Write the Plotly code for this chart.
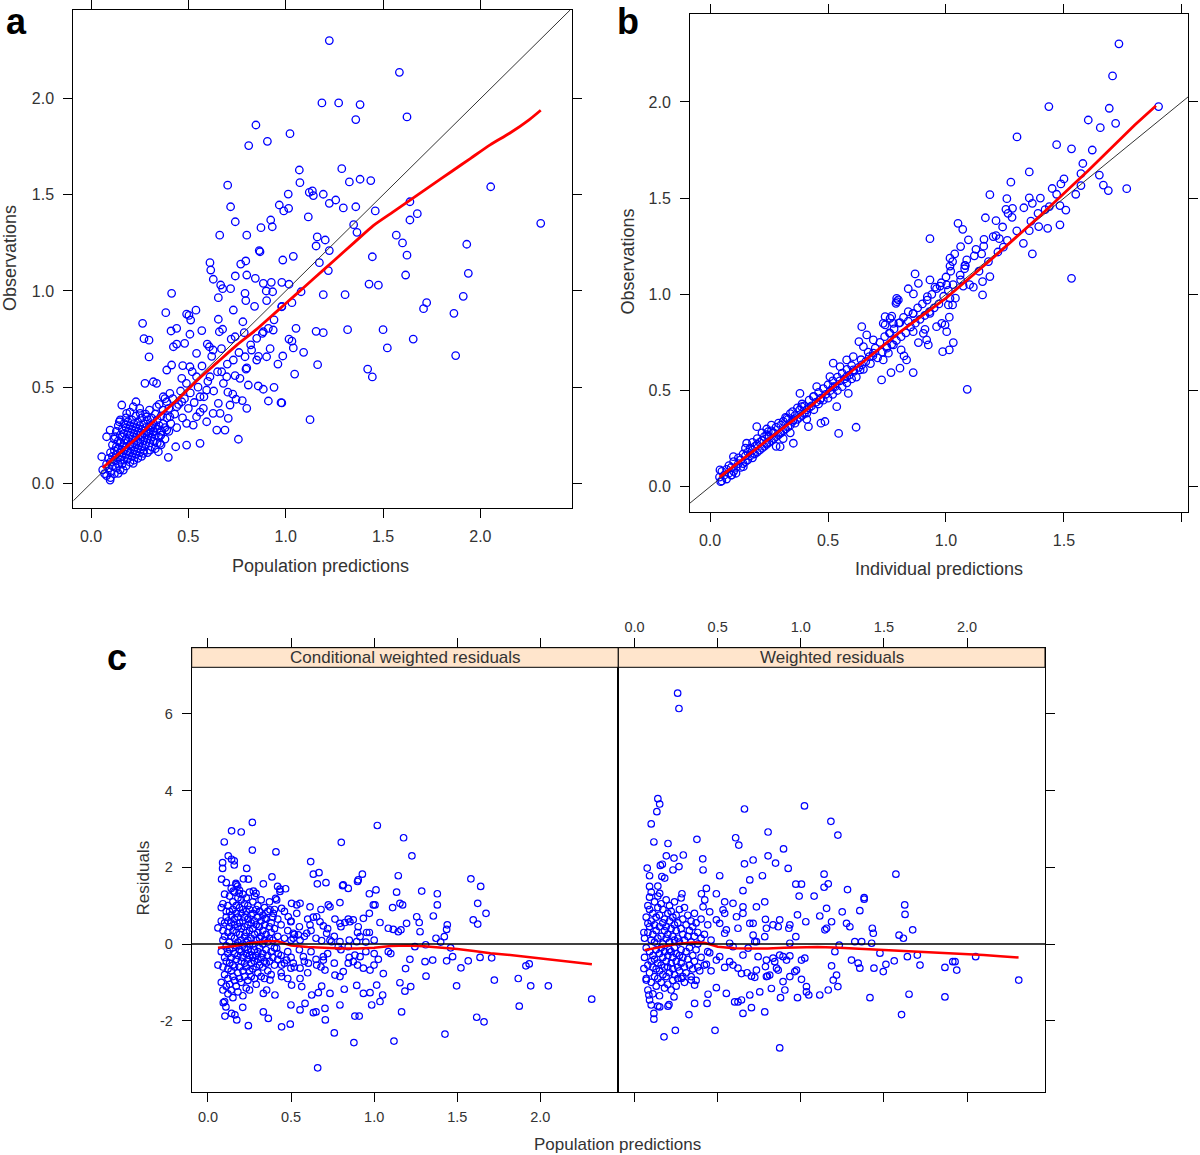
import plotly.graph_objects as go

W, H = 1200, 1155

# ---------------- DATA ----------------
# Panel a: population predictions vs observations
a_points = [
(0.847,1.863),(0.81,1.756),(0.906,1.778),(1.022,1.818),(0.702,1.55),(0.717,1.438),(0.741,1.36),(0.661,1.29),
(0.80,1.29),(0.873,1.329),(0.923,1.369),(0.931,1.334),(0.967,1.447),(0.99,1.416),(1.015,1.43),(1.013,1.504),
(0.864,1.21),(1.07,1.629),(1.073,1.563),(1.224,2.302),(1.584,2.137),(1.186,1.978),(1.272,1.978),(1.382,1.969),
(1.36,1.891),(1.623,1.905),(1.288,1.636),(1.327,1.567),(1.382,1.581),(1.437,1.574),(1.121,1.513),(1.137,1.52),
(1.142,1.496),(1.193,1.503),(1.257,1.473),(1.224,1.456),(1.296,1.432),(1.36,1.438),(1.46,1.416),(1.638,1.464),
(2.053,1.542),(1.676,1.402),(1.638,1.369),(2.31,1.352),(1.116,1.385),(1.349,1.345),(1.366,1.305),(1.162,1.281),
(1.203,1.265),(1.156,1.234),(1.224,1.21),(1.568,1.29),(1.60,1.25),(1.93,1.243),(1.623,1.186),(1.445,1.178),
(1.039,1.18),(1.173,1.147),(1.219,1.106),(0.985,1.161),(0.98,1.045),(1.017,1.035),(1.079,0.996),(1.193,0.981),
(1.305,0.981),(1.428,1.036),(1.476,1.03),(1.616,1.083),(1.938,1.092),(1.912,0.972),(1.724,0.939),(1.708,0.908),
(1.864,0.884),(1.032,0.939),(0.98,0.918),(1.053,0.806),(1.156,0.79),(1.193,0.783),(1.318,0.799),(1.50,0.799),
(1.655,0.75),(1.017,0.75),(1.032,0.739),(1.039,0.704),(1.522,0.704),(1.092,0.681),(0.985,0.662),(1.873,0.664),
(1.164,0.617),(1.421,0.594),(1.445,0.553),(1.046,0.568),(0.98,0.418),(1.125,0.331),
(0.611,1.147),(0.615,1.109),(0.628,1.061),(0.769,1.14),(0.795,1.156),(0.80,1.083),(0.741,1.078),(0.666,1.031),
(0.676,1.012),(0.717,1.012),(0.868,1.204),(0.844,1.066),(0.885,1.04),(0.926,1.045),(0.933,0.996),(0.902,0.95),
(0.791,0.988),(0.795,0.95),(0.654,0.965),(0.414,0.988),(0.384,0.887),(0.539,0.90),(0.491,0.88),(0.503,0.873),
(0.512,0.849),(0.411,0.792),(0.44,0.806),(0.265,0.832),(0.272,0.752),(0.298,0.744),(0.298,0.657),(0.508,0.775),
(0.569,0.794),(0.654,0.853),(0.731,0.901),(0.676,0.801),(0.659,0.788),(0.597,0.724),(0.608,0.71),(0.423,0.71),
(0.44,0.724),(0.481,0.728),(0.542,0.676),(0.627,0.693),(0.74,0.762),(0.787,0.783),(0.851,0.754),(0.885,0.788),
(0.911,0.806),(0.936,0.797),(0.825,0.693),(0.791,0.658),(0.851,0.641),(0.902,0.658),(0.796,0.594),(0.765,0.546),
(0.859,0.506),(0.885,0.489),(0.94,0.499),(0.911,0.428),(0.976,0.419),(0.728,0.464),(0.745,0.437),(0.777,0.43),
(0.714,0.407),(0.80,0.39),(0.705,0.338),(0.646,0.277),(0.688,0.277),(0.757,0.229),(0.491,0.312),(0.525,0.303),
(0.56,0.208),(0.491,0.199),(0.435,0.19),(0.397,0.135),(0.346,0.164),(0.277,0.52),(0.32,0.528),(0.337,0.52),
(0.217,0.398),(0.158,0.407),(0.56,0.45),(0.594,0.485),(0.611,0.554),(0.542,0.554),(0.466,0.546),(0.508,0.606),
(0.471,0.612),(0.389,0.589),(0.414,0.615),(0.405,0.468),(0.389,0.424),(0.466,0.424),(0.654,0.416),(0.627,0.364),
(0.577,0.39),(0.542,0.346),(0.594,0.32),(0.663,0.364),(0.703,0.474),(0.671,0.58),(0.697,0.554),(0.731,0.641),
(0.808,0.511),(0.231,0.424),(0.183,0.364),(0.145,0.32),(0.098,0.277),(0.08,0.242),(0.124,0.242),(0.055,0.138),
(0.098,0.017),(0.14,0.052),(0.166,0.069),(0.217,0.104),(0.269,0.156),(0.303,0.173),(0.354,0.208),(0.359,0.251),
(0.32,0.268),(0.286,0.346),(0.252,0.364),(0.337,0.398),(0.371,0.45),(0.405,0.346),(0.389,0.277),(0.44,0.398),
]
a_cluster = [
(0.06,0.07),(0.07,0.05),(0.08,0.10),(0.08,0.04),(0.09,0.08),(0.09,0.13),(0.10,0.03),(0.10,0.06),(0.10,0.11),
(0.10,0.16),(0.11,0.09),(0.11,0.14),(0.11,0.20),(0.12,0.05),(0.12,0.12),(0.12,0.17),(0.12,0.23),(0.13,0.08),
(0.13,0.15),(0.13,0.19),(0.13,0.27),(0.14,0.10),(0.14,0.13),(0.14,0.18),(0.14,0.22),(0.14,0.30),(0.15,0.07),
(0.15,0.12),(0.15,0.16),(0.15,0.21),(0.15,0.25),(0.15,0.33),(0.16,0.10),(0.16,0.14),(0.16,0.19),(0.16,0.24),
(0.16,0.28),(0.17,0.12),(0.17,0.17),(0.17,0.21),(0.17,0.26),(0.17,0.31),(0.18,0.09),(0.18,0.15),(0.18,0.19),
(0.18,0.23),(0.18,0.29),(0.18,0.34),(0.19,0.13),(0.19,0.17),(0.19,0.22),(0.19,0.27),(0.19,0.32),(0.20,0.11),
(0.20,0.16),(0.20,0.20),(0.20,0.25),(0.20,0.30),(0.20,0.37),(0.21,0.14),(0.21,0.19),(0.21,0.23),(0.21,0.28),
(0.21,0.33),(0.22,0.12),(0.22,0.17),(0.22,0.21),(0.22,0.26),(0.22,0.31),(0.23,0.15),(0.23,0.20),(0.23,0.24),
(0.23,0.29),(0.23,0.35),(0.24,0.13),(0.24,0.18),(0.24,0.22),(0.24,0.27),(0.24,0.32),(0.25,0.16),(0.25,0.21),
(0.25,0.25),(0.25,0.30),(0.25,0.39),(0.26,0.14),(0.26,0.19),(0.26,0.24),(0.26,0.28),(0.26,0.34),(0.27,0.17),
(0.27,0.22),(0.27,0.26),(0.27,0.31),(0.28,0.20),(0.28,0.25),(0.28,0.29),(0.28,0.36),(0.29,0.16),(0.29,0.23),
(0.29,0.27),(0.29,0.33),(0.30,0.21),(0.30,0.26),(0.30,0.30),(0.30,0.38),(0.31,0.19),(0.31,0.24),(0.31,0.29),
(0.31,0.34),(0.32,0.22),(0.32,0.27),(0.32,0.31),(0.33,0.18),(0.33,0.25),(0.33,0.29),(0.33,0.36),(0.34,0.21),
(0.34,0.28),(0.34,0.33),(0.35,0.24),(0.35,0.30),(0.35,0.41),(0.36,0.20),(0.36,0.27),(0.36,0.35),(0.37,0.31),
(0.37,0.38),(0.38,0.23),(0.38,0.29),(0.38,0.44),(0.39,0.34),(0.40,0.27),(0.40,0.39),(0.41,0.31),(0.42,0.44),
(0.43,0.36),(0.44,0.29),(0.45,0.41),(0.46,0.48),(0.47,0.34),(0.48,0.44),(0.49,0.52),(0.50,0.39),(0.51,0.47),
(0.52,0.58),(0.53,0.42),(0.55,0.50),(0.56,0.37),(0.57,0.61),(0.58,0.45),(0.60,0.53),(0.62,0.66),(0.63,0.48),
(0.65,0.58),(0.67,0.70),(0.68,0.52),(0.70,0.62),(0.72,0.75),(0.74,0.56),(0.76,0.68),(0.78,0.84),(0.80,0.60),
(0.82,0.72),(0.84,0.92),(0.86,0.66),(0.88,0.78),(0.90,1.00),(0.92,0.70),(0.94,0.85),(0.96,0.62),(0.98,0.92),
]
a_fit_x = [0.06, 0.15, 0.25, 0.35, 0.45, 0.55, 0.65, 0.75, 0.85, 0.95, 1.05, 1.15, 1.25, 1.35, 1.45, 1.55, 1.65, 1.75, 1.85, 1.95, 2.05, 2.15, 2.25, 2.31]
a_fit_y = [0.08, 0.16, 0.25, 0.35, 0.44, 0.54, 0.63, 0.72, 0.80, 0.89, 0.98, 1.07, 1.16, 1.25, 1.34, 1.41, 1.48, 1.55, 1.62, 1.69, 1.76, 1.82, 1.89, 1.94]

# Panel b: individual predictions vs observations
b_points = [
(1.733,2.302),(1.706,2.135),(1.436,1.976),(1.692,1.967),(1.901,1.976),(1.603,1.906),(1.654,1.866),(1.719,1.889),
(1.301,1.818),(1.469,1.778),(1.532,1.756),(1.353,1.636),(1.572,1.627),(1.275,1.583),(1.487,1.574),(1.572,1.565),
(1.667,1.568),(1.688,1.539),(1.766,1.549),(1.186,1.518),(1.258,1.497),(1.254,1.442),(1.282,1.447),(1.263,1.421),
(1.353,1.501),(1.366,1.473),(1.469,1.52),(1.438,1.456),(1.483,1.461),(1.508,1.438),(1.39,1.421),(1.167,1.398),
(1.212,1.383),(1.051,1.369),(1.071,1.338),(1.353,1.331),(1.393,1.352),(1.431,1.343),(1.483,1.361),(0.932,1.289),
(1.095,1.283),(1.161,1.286),(1.212,1.305),(1.226,1.289),(1.243,1.245),(1.328,1.265),(1.366,1.21),(1.062,1.248),
(1.127,1.234),(1.151,1.21),(1.037,1.21),(1.017,1.188),(1.028,1.17),(1.017,1.147),(1.088,1.179),(1.082,1.149),
(1.079,1.133),(0.869,1.106),(0.883,1.057),(0.932,1.075),(0.84,1.029),(0.862,1.002),(0.953,1.037),(0.975,1.043),
(1.003,1.049),(1.062,1.075),(1.073,1.043),(1.116,1.037),(1.155,1.066),(1.186,1.092),(1.155,0.997),(1.532,1.083),
(0.791,0.979),(1.09,0.506),(1.031,0.749),(1.014,0.711),(0.986,0.702),(0.925,0.737),(0.918,0.763),(0.883,0.749),
(0.861,0.593),(0.805,0.616),(0.767,0.593),(0.727,0.555),(0.833,0.659),(0.822,0.68),(0.81,0.711),(1.003,0.806),
(0.996,0.841),(1.014,0.881),(1.01,0.945),(1.028,0.945),(1.017,0.979),(0.96,0.832),(0.982,0.849),(0.904,0.797),
(0.911,0.818),(0.932,0.901),(0.921,0.988),(0.791,0.962),(0.763,0.875),(0.742,0.841),(0.861,0.806),(0.805,0.853),
(0.84,0.91),(0.861,0.901),(0.777,0.737),(0.756,0.694),(0.734,0.659),(0.545,0.277),(0.619,0.309),(0.643,0.832),
(0.664,0.789),(0.788,0.953),(0.798,0.971),(0.742,0.884),(0.77,0.887),(0.631,0.754),(0.675,0.676),(0.643,0.633),
(0.586,0.485),(0.537,0.416),(0.47,0.33),(0.487,0.339),(0.417,0.312),(0.353,0.226),(0.297,0.208),(0.381,0.485),
(0.438,0.468),(0.522,0.642),(0.551,0.624),(0.579,0.659),(0.607,0.676),(0.508,0.572),(0.452,0.52),(0.388,0.416),
(0.325,0.356),(0.247,0.286),(0.198,0.312),(0.155,0.226),(0.099,0.156),(0.042,0.087),(0.045,0.026),(0.092,0.061),
(0.141,0.104),(0.184,0.173),(0.24,0.226),(0.297,0.277),(0.353,0.347),(0.41,0.382),(0.466,0.451),(0.522,0.52),
(0.579,0.572),(0.636,0.607),(0.692,0.694),(0.749,0.728),(0.763,0.797),(0.777,0.849),(0.734,0.849),(0.692,0.763),
(0.65,0.728),(0.607,0.607),
]
b_cluster = [
(0.04,0.05),(0.05,0.03),(0.05,0.08),(0.06,0.06),(0.07,0.04),(0.07,0.09),(0.08,0.07),(0.08,0.11),(0.09,0.06),
(0.09,0.10),(0.10,0.08),(0.10,0.13),(0.11,0.10),(0.11,0.07),(0.12,0.12),(0.12,0.15),(0.13,0.10),(0.13,0.14),
(0.14,0.12),(0.14,0.17),(0.15,0.13),(0.15,0.16),(0.15,0.20),(0.16,0.14),(0.16,0.18),(0.17,0.16),(0.17,0.20),
(0.18,0.15),(0.18,0.19),(0.18,0.23),(0.19,0.17),(0.19,0.21),(0.20,0.18),(0.20,0.22),(0.20,0.25),(0.21,0.19),
(0.21,0.23),(0.22,0.20),(0.22,0.24),(0.22,0.28),(0.23,0.21),(0.23,0.26),(0.24,0.22),(0.24,0.27),(0.24,0.30),
(0.25,0.23),(0.25,0.26),(0.26,0.24),(0.26,0.29),(0.26,0.32),(0.27,0.25),(0.27,0.28),(0.28,0.26),(0.28,0.31),
(0.28,0.21),(0.29,0.27),(0.29,0.33),(0.30,0.28),(0.30,0.32),(0.31,0.29),(0.31,0.34),(0.31,0.25),(0.32,0.30),
(0.32,0.36),(0.33,0.31),(0.33,0.35),(0.34,0.32),(0.34,0.38),(0.34,0.28),(0.35,0.34),(0.35,0.39),(0.36,0.33),
(0.36,0.37),(0.37,0.35),(0.37,0.41),(0.38,0.36),(0.38,0.40),(0.39,0.37),(0.39,0.43),(0.40,0.38),(0.40,0.42),
(0.41,0.40),(0.41,0.35),(0.42,0.41),(0.42,0.45),(0.43,0.42),(0.44,0.40),(0.44,0.47),(0.45,0.44),(0.46,0.43),
(0.46,0.49),(0.47,0.46),(0.48,0.45),(0.48,0.51),(0.49,0.48),(0.50,0.46),(0.50,0.53),(0.51,0.50),(0.52,0.48),
(0.52,0.55),(0.53,0.52),(0.54,0.50),(0.54,0.57),(0.55,0.55),(0.56,0.52),(0.56,0.59),(0.57,0.56),(0.58,0.54),
(0.58,0.61),(0.59,0.58),(0.60,0.56),(0.60,0.63),(0.61,0.60),(0.62,0.57),(0.63,0.62),(0.64,0.66),(0.65,0.61),
(0.66,0.65),(0.67,0.70),(0.68,0.64),(0.69,0.68),(0.70,0.72),(0.71,0.67),(0.72,0.75),(0.73,0.70),(0.74,0.78),
(0.75,0.72),(0.76,0.80),(0.77,0.74),(0.78,0.82),(0.79,0.76),(0.80,0.85),(0.81,0.78),(0.82,0.88),(0.83,0.80),
(0.84,0.86),(0.85,0.83),(0.86,0.90),(0.87,0.85),(0.88,0.93),(0.89,0.87),(0.90,0.95),(0.91,0.89),(0.92,0.97),
(0.93,0.91),(0.94,1.00),(0.95,0.93),(0.96,1.03),(0.97,0.95),(0.98,1.06),(0.99,0.99),(1.00,1.09),(1.01,1.02),
(1.02,1.12),(1.03,1.05),(1.04,0.98),(1.06,1.10),(1.08,1.15),(1.10,1.05),(1.12,1.20),(1.14,1.12),(1.16,1.25),
(1.18,1.17),(1.20,1.30),(1.22,1.22),(1.24,1.35),(1.26,1.28),(1.28,1.40),(1.30,1.33),(1.33,1.45),(1.36,1.38),
(1.40,1.50),(1.42,1.44),(1.45,1.55),(1.50,1.60),(1.55,1.52),(1.58,1.68),(1.62,1.75),(1.65,1.62),
]
b_fit_x = [0.04, 0.2, 0.4, 0.6, 0.8, 1.0, 1.2, 1.4, 1.6, 1.8, 1.89]
b_fit_y = [0.05, 0.2, 0.39, 0.6, 0.8, 0.98, 1.19, 1.41, 1.64, 1.88, 1.98]

# Panel c (left): population predictions vs conditional weighted residuals
cw_points = [
(0.267,3.17),(0.142,2.95),(0.2,2.92),(0.098,2.66),(1.019,3.09),(0.802,2.65),(1.177,2.77),(1.227,2.3),(0.267,2.45),
(0.409,2.4),(0.122,2.3),(0.142,2.21),(0.158,2.17),(0.158,2.06),(0.088,2.12),(0.088,1.97),(0.233,1.97),(0.618,2.15),
(0.634,1.82),(0.668,1.86),(0.658,1.57),(0.71,1.6),(0.385,1.75),(0.082,1.69),(0.213,1.7),(0.243,1.69),(0.333,1.57),
(0.419,1.5),(0.433,1.43),(0.467,1.44),(0.814,1.54),(0.844,1.45),(0.904,1.67),(0.929,1.82),(1.145,1.78),(0.971,1.31),
(1.011,1.41),(1.135,1.35),(1.286,1.38),(1.38,1.31),(1.582,1.7),(1.641,1.5),(0.168,1.58),(0.178,1.51),(0.152,1.38),
(0.188,1.32),(0.273,1.38),(0.289,1.32),
(2.309,-1.44),(1.873,-1.62),(1.867,-0.9),(1.942,-1.09),(2.048,-1.09),(1.723,-0.94),(1.913,-0.57),(1.933,-0.52),
(1.707,-0.36),(1.637,-0.35),(1.566,-0.44),(1.522,-0.62),(1.496,-1.09),(1.472,-0.33),(1.436,-0.44),(1.617,-1.91),
(1.661,-2.03),(1.426,-2.35),(1.119,-2.53),(0.878,-2.57),(0.66,-3.23),(0.76,-2.32),(0.443,-2.16),(0.495,-2.09),
(0.243,-2.13),(0.173,-1.98),(0.102,-1.88),(0.142,-1.81),(0.162,-1.85),(0.092,-1.53),(0.108,-1.64),(0.209,-1.65),
(0.333,-1.77),(0.363,-1.94),(0.499,-1.59),(0.554,-1.72),(0.584,-1.55),(0.634,-1.79),(0.65,-1.77),(0.706,-1.98),
(0.704,-1.68),(0.794,-1.59),(0.884,-1.88),(0.91,-1.88),(1.165,-1.77),(0.985,-1.59),(1.035,-1.5),(1.051,-1.33),
(0.373,-0.94),(0.403,-1.33),(0.333,-1.29),(0.353,-1.2),(0.443,-0.85),(0.503,-1.07),(0.499,-0.63),(0.554,-0.9),
(0.564,-1.11),(0.624,-1.33),(0.664,-1.27),(0.734,-1.29),(0.684,-1.1),(0.82,-1.18),(0.895,-1.08),(0.935,-1.29),
(0.975,-1.27),(1.015,-1.07),(1.055,-0.77),(0.999,-0.55),(1.025,-0.4),(0.935,-0.63),(0.975,-0.68),(1.155,-1.01),
(1.185,-1.23),(1.22,-1.11),(1.312,-0.84),(1.189,-0.64),(1.215,-0.4),(1.306,-0.46),(1.352,-0.42),(1.276,0.32),
(1.256,0.71),(1.271,0.56),(1.356,0.73),(1.38,1.02),(1.372,0.15),(1.422,0.19),(1.436,0.38),(1.44,0.5),(1.596,0.63),
(1.623,0.52),(1.623,1.06),(1.673,0.8),(1.195,0.54),(1.161,0.37),(1.145,0.32),(1.115,0.38),(1.085,0.41),(1.035,0.56),
(1.111,0.95),(1.155,1.06),(1.171,1.02),(0.995,1.02),(1.005,1.02),(0.971,0.8),(0.935,0.67),(0.971,0.3),(0.904,0.45),
(0.874,0.63),(0.854,0.58),(0.824,0.56),(0.844,0.65),(0.794,0.54),(0.764,0.65),(0.724,1.02),(0.734,0.97),(0.794,1.08),
(0.81,1.52),(0.9,1.63),(0.614,0.97),(0.634,0.7),(0.654,0.71),(0.674,0.58),(0.694,0.47),(0.714,0.28),(0.684,0.09),
(0.734,0.1),(0.744,0.06),(0.794,0.06),(0.784,-0.07),(0.844,-0.07),(0.895,0.06),(0.915,0.19),(0.955,0.3),(0.884,-0.29),
(0.915,-0.33),(0.874,-0.46),(0.844,-0.5),(0.814,-0.72),(0.794,-0.85),(0.764,-0.81),(0.704,-0.68),(0.694,-0.42),
(0.694,-0.33),(0.654,-0.55),(0.604,-0.5),(0.574,-0.33),(0.554,-0.63),(0.513,-0.5),(0.473,-0.42),(0.443,-0.55),
(0.413,-0.11),(0.423,-0.26),(0.554,0.1),(0.544,0.24),(0.513,0.28),(0.513,0.15),(0.594,0.28),(0.614,0.5),(0.534,0.8),
(0.503,1.06),(0.534,1.02),(0.554,1.06),(0.498,0.58),(0.483,0.71),(0.443,0.93),(0.413,1.15),(0.407,1.19),(0.433,1.37),
(0.393,0.8),(0.373,0.89),(0.343,0.67),(0.313,0.84),(1.085,-0.2),(1.10,-0.25),(1.245,-0.07),(1.31,-0.02),(1.40,0.05),
(1.46,-0.1),
]
cw_cluster = {
0.06: [0.42, -0.55], 0.08: [0.6, -0.2, 0.95, -1.0], 0.09: [1.05, 0.1, -0.6, -1.2, 0.35],
0.10: [0.55, -0.35, 1.3, -0.8, 0.2, -1.5], 0.11: [0.85, -0.05, 0.7, -0.45, -1.1, 1.6],
0.12: [0.3, -0.9, 1.0, -0.25, 0.6, -1.3, -0.65], 0.13: [1.25, 0.05, -0.5, 0.45, -1.05, 0.85, -0.15],
0.14: [0.75, -0.7, 1.45, 0.2, -0.35, -1.2, 0.55], 0.15: [-0.85, 0.35, 1.1, -0.1, 0.9, -0.55, -1.4],
0.16: [0.65, -0.25, 1.35, -0.95, 0.15, 0.5, -0.6], 0.17: [1.0, -0.4, 0.3, -1.1, 0.8, -0.05, 1.55],
0.18: [-0.75, 0.45, 1.2, -0.3, 0.05, -1.25, 0.7], 0.19: [0.25, -0.6, 0.95, -0.15, 1.4, -0.9, 0.55],
0.20: [-0.45, 0.8, -1.0, 0.1, 1.15, -0.2, 0.4], 0.21: [0.6, -0.7, 1.3, -0.35, 0.0, -1.35, 0.9],
0.22: [-0.1, 0.45, -0.85, 1.05, 0.2, -0.5, 0.7], 0.23: [0.3, -0.6, 1.2, -0.25, 0.85, -1.15, 0.05],
0.24: [-0.4, 0.65, 0.1, -0.95, 1.0, -0.15, 0.5], 0.25: [0.35, -0.7, 0.9, -0.3, 1.35, 0.0, -1.2],
0.26: [-0.5, 0.75, 0.15, -0.85, 0.55, -0.2], 0.27: [0.4, -0.35, 1.1, -0.65, 0.0, 0.8],
0.28: [-0.15, 0.6, -0.9, 0.25, -0.45, 1.25], 0.29: [0.5, -0.6, 0.1, 0.9, -0.3, -1.05],
0.30: [-0.2, 0.7, 0.3, -0.75, 1.0, -0.4], 0.31: [0.15, -0.55, 0.85, -0.1, 0.45],
0.32: [-0.35, 0.6, -0.85, 0.2, 1.15], 0.33: [0.35, -0.25, 0.75, -0.6, 0.0], 0.34: [-0.45, 0.5, 0.1, -0.9, 0.95],
0.35: [0.25, -0.15, 0.65, -0.5], 0.36: [-0.3, 0.85, 0.05, -0.7], 0.37: [0.45, -0.45, 1.1, 0.15],
0.38: [-0.2, 0.55, -0.8, 0.3], 0.39: [0.7, -0.35, 0.1], 0.40: [-0.55, 0.4, 0.9, -0.1], 0.42: [0.2, -0.4, 0.65],
0.44: [-0.3, 0.5, -0.75], 0.46: [0.15, -0.5, 0.85], 0.48: [-0.2, 0.35, -0.9], 0.50: [0.6, -0.35, 0.1],
0.52: [-0.6, 0.25], 0.55: [0.45, -0.15], 0.58: [-0.45, 0.2], 0.60: [0.65, -0.75], 0.62: [-0.2, 0.35],
0.65: [0.15, -0.4], 0.68: [0.9, -0.6], 0.72: [-0.25, 0.4], 0.76: [0.2, -0.5], 0.80: [-0.15, 0.45],
0.85: [0.1, -0.35], 0.90: [-0.55, 0.3], 0.95: [0.05, -0.2], 1.00: [-0.25, 0.1],
}

# Panel c (right): population predictions vs weighted residuals
wr_points = [
(0.259,6.54),(0.267,6.14),(0.14,3.79),(0.151,3.65),(0.134,3.45),(0.661,3.52),(1.022,3.6),(1.181,3.2),(1.223,2.84),
(0.1,3.13),(0.116,2.66),(0.201,2.62),(0.375,2.73),(0.608,2.77),(0.627,2.58),(0.803,2.92),(0.896,2.48),(0.293,2.32),
(0.41,2.22),(0.412,1.93),(0.237,2.24),(0.191,2.3),(0.167,2.08),(0.155,2.05),(0.267,2.02),(0.231,1.93),(0.076,1.98),
(0.09,1.78),(0.164,1.76),(0.181,1.72),(0.09,1.5),(0.14,1.51),(0.151,1.32),(0.285,1.31),(0.402,1.31),(0.432,1.45),
(0.492,1.31),(0.512,1.78),(0.652,1.39),(0.661,2.09),(0.713,2.19),(0.693,1.67),(0.769,1.78),(0.803,2.3),(0.848,2.11),
(0.924,1.97),(0.97,1.56),(1.004,1.56),(0.99,1.25),(1.08,1.25),(1.14,1.82),(1.14,1.48),(1.165,1.57),(1.281,1.42),
(1.381,1.21),(1.572,1.82),
(2.311,-0.94),(2.052,-0.33),(1.867,-0.61),(1.914,-0.46),(1.928,-0.46),(1.938,-0.68),(1.867,-1.38),(1.717,-0.55),
(1.701,-0.29),(1.641,-0.33),(1.673,0.37),(1.617,0.15),(1.591,0.23),(1.627,0.77),(1.625,1.02),(1.651,-1.31),
(1.606,-1.84),(1.562,-0.44),(1.512,-0.53),(1.496,-0.72),(1.476,-0.24),(1.44,-0.63),(1.416,-1.4),(1.436,0.28),
(1.43,0.41),(1.426,0.02),(1.355,0.87),(1.381,1.17),(1.366,0.06),(1.325,0.06),(1.295,0.45),(1.275,0.54),(1.249,0.84),
(1.355,-0.63),(1.345,-0.5),(1.305,-0.42),(1.223,-1.11),(1.215,-0.81),(1.195,-0.94),(1.185,-0.57),(1.165,-1.2),
(1.114,-1.33),(1.205,-0.2),(1.231,-0.03),(1.185,0.58),(1.155,0.41),(1.145,0.37),(1.114,0.73),(1.155,0.93),(1.03,0.58),
(0.98,0.76),(0.97,0.19),(0.934,0.5),(0.928,0.41),(1.004,-0.42),(1.024,-0.37),(0.974,-0.68),(0.964,-0.72),(1.004,-0.92),
(1.034,-1.11),(1.034,-1.25),(1.048,-1.33),(0.98,-1.4),(0.934,-0.85),(0.904,-1.2),(0.878,-1.4),(0.873,-2.71),
(0.893,-0.98),(0.934,-0.31),(0.893,-0.33),(0.914,-0.42),(0.854,-0.63),(0.864,-0.68),(0.793,-0.85),(0.813,-0.81),
(0.823,-1.16),(0.783,-1.77),(0.753,-1.25),(0.703,-1.66),(0.652,-1.81),(0.693,-1.33),(0.643,-1.46),(0.622,-1.51),
(0.602,-1.51),(0.552,-1.29),(0.492,-1.14),(0.484,-2.25),(0.442,-1.31),(0.436,-1.55),(0.361,-1.55),(0.327,-1.84),
(0.245,-2.25),(0.177,-2.42),(0.207,-1.58),(0.201,-1.62),(0.237,-1.38),(0.151,-1.64),(0.14,-1.62),(0.116,-1.81),
(0.116,-1.96),(0.09,-1.46),(0.1,-1.59),(0.086,-1.33),(0.056,-0.64),(0.07,-0.94),(0.056,0.3),(0.08,0.54),(0.09,1.22),
(0.392,-0.7),(0.432,-0.53),(0.361,-1.07),(0.341,-0.94),(0.281,-0.9),(0.452,-0.23),(0.492,-0.42),(0.512,-0.33),
(0.542,-0.61),(0.572,-0.46),(0.592,-0.55),(0.622,-0.63),(0.643,-0.77),(0.677,-0.75),(0.703,-0.84),(0.733,-0.68),
(0.723,-0.87),(0.787,-0.59),(0.799,-0.84),(0.793,-0.42),(0.743,-0.33),(0.652,-0.29),(0.683,-0.11),(0.833,-0.37),
(0.843,-0.46),(0.873,-0.29),(0.723,0.06),(0.733,0.06),(0.713,0.23),(0.783,0.19),(0.793,0.41),(0.833,0.5),(0.873,0.63),
(0.864,0.45),(0.934,0.02),(0.787,0.64),(0.733,0.97),(0.783,1.1),(0.693,0.54),(0.713,0.54),(0.652,0.8),(0.652,0.97),
(0.592,1.06),(0.613,0.71),(0.622,0.41),(0.542,0.8),(0.532,0.89),(0.542,1.1),(0.542,0.28),(0.552,0.37),(0.572,0.02),
(0.592,-0.07),(0.492,0.63),(0.512,0.54),(0.452,0.84),(0.412,0.97),(0.422,1.15),
]
wr_cluster = {
0.06: [0.15, -0.35], 0.07: [0.7, -0.9, -0.1], 0.08: [1.0, -0.55, 0.3, -1.2], 0.09: [0.45, -0.2, -0.75, 0.9],
0.10: [-1.0, 0.1, 0.6, -0.45, 1.35], 0.11: [-0.3, 0.8, -1.3, 0.25, -0.6], 0.12: [0.5, -0.85, 0.05, 1.1, -0.4],
0.13: [-0.15, 0.7, -1.1, 0.35, -0.65], 0.14: [0.95, -0.5, 0.15, -0.9, 1.25], 0.15: [-0.25, 0.45, -1.35, 0.75, -0.7],
0.16: [0.2, -0.55, 1.05, -0.1, -1.0], 0.17: [-0.8, 0.55, -0.35, 0.9, 0.0], 0.18: [0.35, -1.15, -0.2, 0.65, -0.6],
0.19: [-0.45, 0.15, 1.15, -0.85, 0.45], 0.20: [0.8, -0.3, -1.05, 0.25, -0.6], 0.21: [-0.15, 0.6, -0.75, 0.05, 1.0],
0.22: [0.4, -0.5, -1.2, 0.85, -0.2], 0.23: [-0.65, 0.2, 0.7, -0.35, -0.95], 0.24: [0.5, -0.1, -0.8, 1.1, 0.1],
0.25: [-0.45, 0.35, -1.1, 0.75, -0.25], 0.26: [0.15, -0.6, 0.55, -0.9], 0.27: [-0.3, 0.9, 0.05, -0.7],
0.28: [0.4, -0.5, 1.2, -0.15], 0.29: [-0.85, 0.25, 0.65, -0.35], 0.30: [0.1, -0.6, 0.95, -1.0],
0.31: [-0.2, 0.5, -0.75], 0.32: [0.75, -0.4, 0.2], 0.33: [-0.55, 0.35, -0.1], 0.34: [0.6, -0.85, 0.05],
0.35: [-0.3, 0.45, -0.65], 0.36: [0.2, -0.45, 0.8], 0.37: [-0.15, 0.55, -0.95], 0.38: [0.3, -0.6, 0.0],
0.40: [-0.35, 0.65, 0.15], 0.42: [-0.55, 0.25], 0.44: [0.5, -0.2], 0.46: [-0.7, 0.1],
}
c_fit_x = [0.06, 0.15, 0.25, 0.35, 0.42, 0.5, 0.6, 0.7, 0.8, 0.9, 1.0, 1.1, 1.2, 1.3, 1.4, 1.5, 1.6, 1.7, 1.8, 1.9, 2.0, 2.1, 2.2, 2.31]
cw_fit = [-0.10, -0.06, 0.02, 0.07, 0.07, -0.04, -0.08, -0.10, -0.12, -0.12, -0.10, -0.05, -0.04, -0.06, -0.09, -0.13, -0.18, -0.24, -0.28, -0.33, -0.37, -0.42, -0.47, -0.53]
wr_fit = [-0.16, -0.08, 0.0, 0.04, 0.03, -0.07, -0.11, -0.12, -0.12, -0.10, -0.09, -0.08, -0.09, -0.11, -0.13, -0.16, -0.18, -0.20, -0.22, -0.24, -0.26, -0.29, -0.32, -0.35]

ab_ticks = [0, 0.5, 1.0, 1.5, 2.0]
ab_ticktext = ["0.0", "0.5", "1.0", "1.5", "2.0"]
b_xticktext = ["0.0", "0.5", "1.0", "1.5", ""]
c_xticks = [0, 0.5, 1.0, 1.5, 2.0]
c_xticktext = ["0.0", "0.5", "1.0", "1.5", "2.0"]
c_yticks = [-2, 0, 2, 4, 6]
c_yticktext = ["-2", "0", "2", "4", "6"]

# ---------------- FIGURE ----------------
FONT = "Liberation Sans, Arial, sans-serif"
TXT = "#333333"
BLUE = "#0000FF"


def unzip(pairs):
    return [p[0] for p in pairs], [p[1] for p in pairs]


def expand(d):
    return [(x, y) for x, ys in d.items() for y in ys]


fig = go.Figure()

ax, ay = unzip(a_points + a_cluster)
bx, by = unzip(b_points + b_cluster)
cx, cy = unzip(cw_points + expand(cw_cluster))
dx, dy = unzip(wr_points + expand(wr_cluster))

a_xr = [-0.091, 2.469]; a_yr = [-0.130, 2.461]
b_xr = [-0.085, 2.027]; b_yr = [-0.133, 2.457]
c_xr = [-0.098, 2.469]; c_yr = [-3.867, 7.726]

mk_ab = dict(symbol="circle-open", size=7.5, color=BLUE, line=dict(color=BLUE, width=1.3))
mk_c = dict(symbol="circle-open", size=6.5, color=BLUE, line=dict(color=BLUE, width=1.2))

fig.add_trace(go.Scatter(x=ax, y=ay, mode="markers", marker=mk_ab, xaxis="x", yaxis="y"))
fig.add_trace(go.Scatter(x=[a_xr[0], a_yr[1]], y=[a_xr[0], a_yr[1]], mode="lines",
                         line=dict(color="#333333", width=1), xaxis="x", yaxis="y"))
fig.add_trace(go.Scatter(x=a_fit_x, y=a_fit_y, mode="lines", line=dict(color="red", width=2.8, shape="spline", smoothing=0.6),
                         xaxis="x", yaxis="y"))

fig.add_trace(go.Scatter(x=bx, y=by, mode="markers", marker=mk_ab, xaxis="x2", yaxis="y2"))
fig.add_trace(go.Scatter(x=[b_xr[0], b_xr[1]], y=[b_xr[0], b_xr[1]], mode="lines",
                         line=dict(color="#333333", width=1), xaxis="x2", yaxis="y2"))
fig.add_trace(go.Scatter(x=b_fit_x, y=b_fit_y, mode="lines", line=dict(color="red", width=2.8),
                         xaxis="x2", yaxis="y2"))

fig.add_trace(go.Scatter(x=cx, y=cy, mode="markers", marker=mk_c, xaxis="x3", yaxis="y3"))
fig.add_trace(go.Scatter(x=c_fit_x, y=cw_fit, mode="lines", line=dict(color="red", width=2.5),
                         xaxis="x3", yaxis="y3"))
fig.add_trace(go.Scatter(x=dx, y=dy, mode="markers", marker=mk_c, xaxis="x4", yaxis="y4"))
fig.add_trace(go.Scatter(x=c_fit_x, y=wr_fit, mode="lines", line=dict(color="red", width=2.5),
                         xaxis="x4", yaxis="y4"))


def axis(domain, rng, tickvals, ticktext, size, anchor, mirror="allticks", side=None,
         showlabels=True, standoff=6):
    d = dict(domain=domain, range=rng, anchor=anchor, showline=True, linecolor="black", linewidth=1,
             mirror=mirror, ticks="outside", ticklen=9, tickwidth=1, tickcolor="black",
             showgrid=False, zeroline=False, tickmode="array", tickvals=tickvals, ticktext=ticktext,
             tickfont=dict(family=FONT, size=size, color=TXT), showticklabels=showlabels,
             ticklabelstandoff=standoff, fixedrange=True)
    if side:
        d["side"] = side
    return d


def dom_x(p0, p1):
    return [p0 / W, p1 / W]


def dom_y(top, bottom):
    return [1 - bottom / H, 1 - top / H]


fig.update_layout(
    width=W, height=H, autosize=False, showlegend=False,
    margin=dict(l=0, r=0, t=0, b=0),
    paper_bgcolor="white", plot_bgcolor="white",
    xaxis=axis(dom_x(73.3, 571.7), a_xr, ab_ticks, ab_ticktext, 16, "y", standoff=4),
    yaxis=axis(dom_y(10, 508.3), a_yr, ab_ticks, ab_ticktext, 16, "x"),
    xaxis2=axis(dom_x(690, 1188.3), b_xr, ab_ticks, b_xticktext, 16, "y2", standoff=4),
    yaxis2=axis(dom_y(14, 512.3), b_yr, ab_ticks, ab_ticktext, 16, "x2"),
    xaxis3=axis(dom_x(191.7, 618.3), c_xr, c_xticks, c_xticktext, 14.5, "y3", standoff=2),
    yaxis3=axis(dom_y(647.7, 1092.3), c_yr, c_yticks, c_yticktext, 14.5, "x3", mirror=True),
    xaxis4=axis(dom_x(618.3, 1045), c_xr, c_xticks, c_xticktext, 14.5, "y4", side="top", standoff=0),
    yaxis4=axis(dom_y(647.7, 1092.3), c_yr, c_yticks, c_yticktext, 14.5, "x4", mirror=True,
                side="right", showlabels=False),
)

# zero reference line across both residual panels
fig.add_shape(type="line", xref="x3 domain", yref="y3", x0=0, x1=1, y0=0, y1=0,
              line=dict(color="black", width=1.3))
fig.add_shape(type="line", xref="x4 domain", yref="y4", x0=0, x1=1, y0=0, y1=0,
              line=dict(color="black", width=1.3))

# strips
for (x0, x1) in [(191.7, 618.3), (618.3, 1045)]:
    fig.add_shape(type="rect", xref="paper", yref="paper", x0=x0 / W, x1=x1 / W,
                  y0=1 - 667.3 / H, y1=1 - 647.7 / H, fillcolor="#FFE5CC",
                  line=dict(color="black", width=1), layer="above")

strip_labels = ["Conditional weighted residuals", "Weighted residuals"]
for lbl, xc in zip(strip_labels, [405, 831.7]):
    fig.add_annotation(text=lbl, x=xc / W, y=1 - 657.5 / H, xref="paper", yref="paper",
                       showarrow=False, xanchor="center", yanchor="middle",
                       font=dict(family=FONT, size=17, color=TXT))


def ann(text, x, y, size, angle=0, bold=False, color=TXT):
    fig.add_annotation(text=("<b>%s</b>" % text) if bold else text, x=x / W, y=1 - y / H,
                       xref="paper", yref="paper", showarrow=False, xanchor="center",
                       yanchor="middle", textangle=angle,
                       font=dict(family=FONT, size=size, color=color))


ann("Population predictions", 320, 566, 18)
ann("Observations", 10, 258, 18, angle=-90)
ann("Individual predictions", 938.5, 569, 18)
ann("Observations", 627.5, 262, 18, angle=-90)
ann("Population predictions", 617, 1144, 17)
ann("Residuals", 142.5, 878, 17, angle=-90)
ann("a", 16, 21, 36, bold=True, color="black")
ann("b", 628, 21, 36, bold=True, color="black")
ann("c", 117, 657, 36, bold=True, color="black")

fig.write_html("out.html", config={"displayModeBar": False},
               post_script="document.body.style.margin='0';document.body.style.overflow='hidden';")
